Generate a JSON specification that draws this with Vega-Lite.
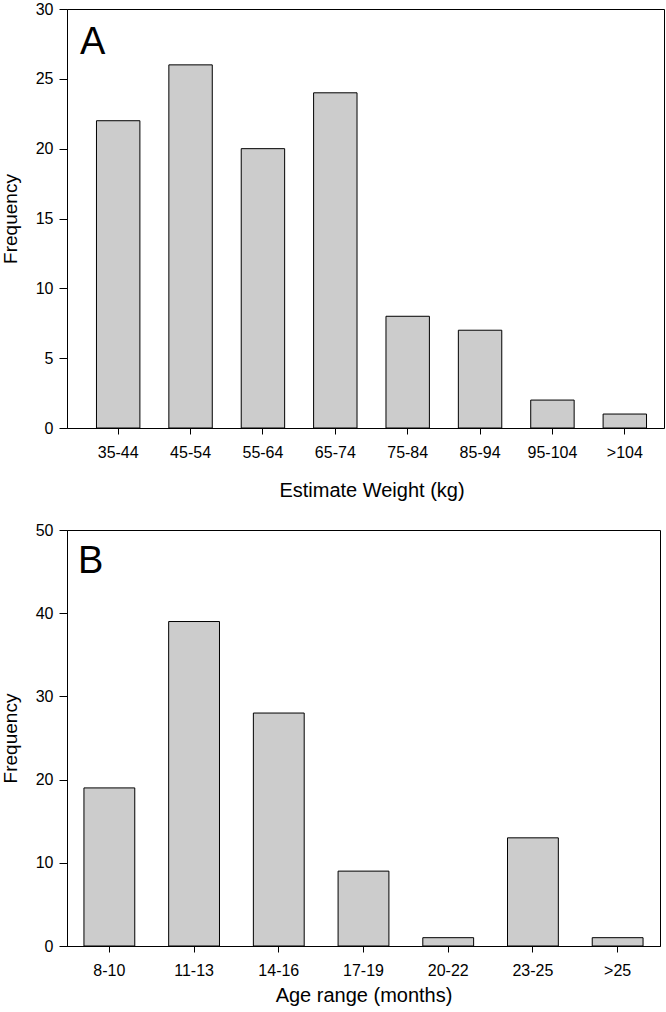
{
  "$schema": "https://vega.github.io/schema/vega-lite/v6.json",
  "padding": {"left": 0, "top": 0, "right": 0, "bottom": 0},
  "background": "white",
  "spacing": 20,
  "datasets": {
    "weight": [
      {"range": "35-44", "freq": 22},
      {"range": "45-54", "freq": 26},
      {"range": "55-64", "freq": 20},
      {"range": "65-74", "freq": 24},
      {"range": "75-84", "freq": 8},
      {"range": "85-94", "freq": 7},
      {"range": "95-104", "freq": 2},
      {"range": ">104", "freq": 1}
    ],
    "age": [
      {"range": "8-10", "freq": 19},
      {"range": "11-13", "freq": 39},
      {"range": "14-16", "freq": 28},
      {"range": "17-19", "freq": 9},
      {"range": "20-22", "freq": 1},
      {"range": "23-25", "freq": 13},
      {"range": ">25", "freq": 1}
    ]
  },
  "config": {
    "font": "Liberation Sans",
    "view": {"stroke": "black", "strokeWidth": 1},
    "axis": {
      "grid": false,
      "domainColor": "black",
      "tickColor": "black",
      "labelColor": "black",
      "titleColor": "black",
      "labelFont": "Liberation Sans",
      "titleFont": "Liberation Sans",
      "labelFontSize": 16,
      "titleFontSize": 19,
      "titleFontWeight": "normal"
    },
    "title": {"font": "Liberation Sans", "fontWeight": "normal", "color": "black"}
  },
  "vconcat": [
    {
      "width": 597,
      "height": 419,
      "title": {"text": "A", "fontSize": 38, "anchor": "start", "frame": "group", "dx": 13, "offset": -61},
      "data": {"name": "weight"},
      "mark": {"type": "bar", "fill": "#cccccc", "stroke": "black", "strokeWidth": 1},
      "encoding": {
        "x": {
          "field": "range", "type": "ordinal", "sort": null,
          "scale": {"range": [15, 594], "paddingInner": 0.4, "paddingOuter": 0.2},
          "axis": {"title": "Estimate Weight (kg)", "titleFontSize": 20, "labelAngle": 0, "tickSize": 6, "labelPadding": 10, "titlePadding": 20}
        },
        "y": {
          "field": "freq", "type": "quantitative",
          "scale": {"domain": [0, 30], "nice": false},
          "axis": {"title": "Frequency", "values": [0, 5, 10, 15, 20, 25, 30], "tickSize": 8, "labelPadding": 6, "titlePadding": 15}
        }
      }
    },
    {
      "width": 593,
      "height": 416,
      "title": {"text": "B", "fontSize": 38, "anchor": "start", "frame": "group", "dx": 11, "offset": -59},
      "data": {"name": "age"},
      "mark": {"type": "bar", "fill": "#cccccc", "stroke": "black", "strokeWidth": 1},
      "encoding": {
        "x": {
          "field": "range", "type": "ordinal", "sort": null,
          "scale": {"paddingInner": 0.4, "paddingOuter": 0.2},
          "axis": {"title": "Age range (months)", "titleFontSize": 20, "labelAngle": 0, "tickSize": 6, "labelPadding": 10, "titlePadding": 7}
        },
        "y": {
          "field": "freq", "type": "quantitative",
          "scale": {"domain": [0, 50], "nice": false},
          "axis": {"title": "Frequency", "values": [0, 10, 20, 30, 40, 50], "tickSize": 8, "labelPadding": 6, "titlePadding": 15}
        }
      }
    }
  ]
}
